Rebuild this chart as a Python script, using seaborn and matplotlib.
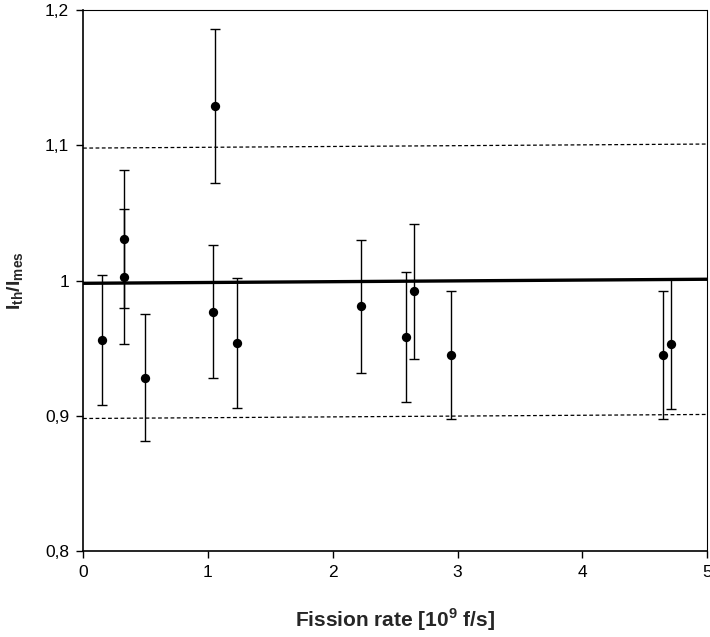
import matplotlib
matplotlib.use("Agg")
import matplotlib.pyplot as plt
import seaborn as sns
import numpy as np
import pandas as pd

# data
fission_rate = [0.15, 0.33, 0.33, 0.50, 1.06, 1.04, 1.23, 2.23, 2.59, 2.65, 2.95, 4.65, 4.71]
ratio        = [0.956, 1.031, 1.003, 0.928, 1.129, 0.977, 0.954, 0.981, 0.958, 0.992, 0.945, 0.945, 0.953]
err          = [0.048, 0.051, 0.050, 0.047, 0.057, 0.049, 0.048, 0.049, 0.048, 0.050, 0.047, 0.047, 0.048]
fit_x        = [0.0, 5.0]
fit_y        = [0.998, 1.001]
band_offset  = 0.1
yticks       = [0.8, 0.9, 1.0, 1.1, 1.2]
ytick_labels = ["0,8", "0,9", "1", "1,1", "1,2"]
xticks       = [0, 1, 2, 3, 4, 5]

sns.set_style("white")
plt.rcParams['font.family'] = ['Liberation Sans', 'DejaVu Sans']
plt.rcParams['mathtext.fontset'] = 'custom'
plt.rcParams['mathtext.rm'] = 'Liberation Sans'
plt.rcParams['mathtext.bf'] = 'Liberation Sans:bold'

fig = plt.figure(figsize=(7.10, 6.37), dpi=100)
ax = fig.add_axes([0.117, 0.135, 0.879, 0.849])

df = pd.DataFrame({"x": fission_rate, "y": ratio, "e": err})
fit = pd.DataFrame({"x": fit_x, "y": fit_y})
fit_hi = pd.DataFrame({"x": fit_x, "y": [v + band_offset for v in fit_y]})
fit_lo = pd.DataFrame({"x": fit_x, "y": [v - band_offset for v in fit_y]})

sns.lineplot(data=fit, x="x", y="y", ax=ax, color="black", linewidth=2.4, zorder=2)
sns.lineplot(data=fit_hi, x="x", y="y", ax=ax, color="black", linewidth=0.9,
             linestyle=(0, (3, 2)), zorder=1)
sns.lineplot(data=fit_lo, x="x", y="y", ax=ax, color="black", linewidth=0.9,
             linestyle=(0, (3, 2)), zorder=1)

ax.errorbar(df["x"], df["y"], yerr=df["e"], fmt="none", ecolor="black",
            elinewidth=1.0, capsize=3.5, capthick=1.0, zorder=3)
sns.scatterplot(data=df, x="x", y="y", ax=ax, color="black", s=45,
                edgecolor="black", linewidth=0, zorder=4)

ax.set_xlim(0, 5)
ax.set_ylim(0.8, 1.2)
ax.set_xticks(xticks)
ax.set_xticklabels([str(t) for t in xticks])
ax.set_yticks(yticks)
ax.set_yticklabels(ytick_labels)
ax.tick_params(axis="both", direction="out", length=5, width=1, labelsize=12.5,
               colors="black", left=True, bottom=True, pad=5)

for side in ["left", "bottom"]:
    ax.spines[side].set_color("black")
    ax.spines[side].set_linewidth(1.2)
for side in ["top", "right"]:
    ax.spines[side].set_color("black")
    ax.spines[side].set_linewidth(0.8)
    ax.spines[side].set_linestyle((0, (1, 1)))

ax.set_xlabel(r"Fission rate [10$^{\mathbf{9}}$ f/s]", fontsize=15, fontweight="bold", labelpad=19)
ax.set_ylabel(r"$\mathbf{I_{th}/I_{mes}}$", fontsize=14, labelpad=14)

fig.savefig("out.png", dpi=100)
